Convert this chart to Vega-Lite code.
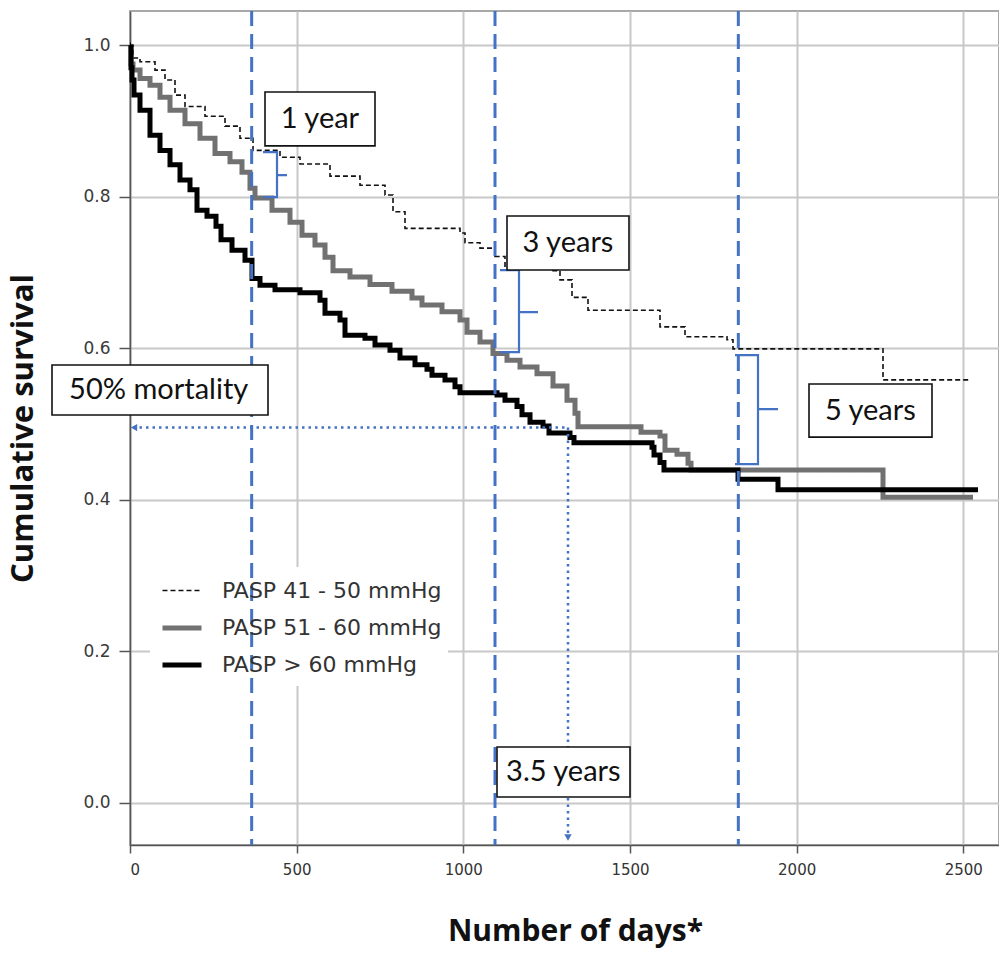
{
  "$schema": "https://vega.github.io/schema/vega-lite/v6.json",
  "width": 869,
  "height": 834,
  "autosize": {"type": "none"},
  "padding": {"left": 130, "top": 11, "right": 0, "bottom": 116},
  "background": "white",
  "config": {
    "view": {"stroke": "#a8a8a8", "strokeWidth": 2},
    "axis": {
      "labelFont": "DejaVu Sans",
      "tickColor": "#555", "tickWidth": 1.5,
      "domainColor": "#555", "domainWidth": 1.5,
      "grid": true, "gridColor": "#c8c8c8", "gridWidth": 2,
      "titleFont": "Open Sans", "titleFontWeight": "bold", "titleColor": "#111"
    },
    "axisX": {"labelFontSize": 15, "labelColor": "#333", "labelPadding": 9, "tickSize": 8, "titlePadding": 39, "titleFontSize": 30, "titleX": 445},
    "axisY": {"labelFontSize": 17, "labelColor": "#3a3a3a", "labelPadding": 9, "tickSize": 11, "titlePadding": 43, "titleFontSize": 31},
    "legend": {"labelFont": "DejaVu Sans", "labelFontSize": 22, "labelColor": "#333", "labelLimit": 500, "labelOffset": 18, "rowPadding": 4, "symbolType": "stroke", "symbolSize": 1521, "padding": 10}
  },
  "datasets": {
    "curves": [
      {"s": "PASP 41 - 50 mmHg", "d": 0, "v": 1.0},
      {"s": "PASP 41 - 50 mmHg", "d": 9, "v": 0.983},
      {"s": "PASP 41 - 50 mmHg", "d": 30, "v": 0.978},
      {"s": "PASP 41 - 50 mmHg", "d": 75, "v": 0.967},
      {"s": "PASP 41 - 50 mmHg", "d": 105, "v": 0.954},
      {"s": "PASP 41 - 50 mmHg", "d": 135, "v": 0.934},
      {"s": "PASP 41 - 50 mmHg", "d": 165, "v": 0.919},
      {"s": "PASP 41 - 50 mmHg", "d": 225, "v": 0.906},
      {"s": "PASP 41 - 50 mmHg", "d": 285, "v": 0.893},
      {"s": "PASP 41 - 50 mmHg", "d": 330, "v": 0.877},
      {"s": "PASP 41 - 50 mmHg", "d": 369, "v": 0.861},
      {"s": "PASP 41 - 50 mmHg", "d": 450, "v": 0.852},
      {"s": "PASP 41 - 50 mmHg", "d": 510, "v": 0.843},
      {"s": "PASP 41 - 50 mmHg", "d": 600, "v": 0.827},
      {"s": "PASP 41 - 50 mmHg", "d": 690, "v": 0.815},
      {"s": "PASP 41 - 50 mmHg", "d": 765, "v": 0.802},
      {"s": "PASP 41 - 50 mmHg", "d": 789, "v": 0.78},
      {"s": "PASP 41 - 50 mmHg", "d": 825, "v": 0.758},
      {"s": "PASP 41 - 50 mmHg", "d": 990, "v": 0.752},
      {"s": "PASP 41 - 50 mmHg", "d": 1005, "v": 0.739},
      {"s": "PASP 41 - 50 mmHg", "d": 1050, "v": 0.732},
      {"s": "PASP 41 - 50 mmHg", "d": 1095, "v": 0.721},
      {"s": "PASP 41 - 50 mmHg", "d": 1125, "v": 0.706},
      {"s": "PASP 41 - 50 mmHg", "d": 1260, "v": 0.702},
      {"s": "PASP 41 - 50 mmHg", "d": 1290, "v": 0.69},
      {"s": "PASP 41 - 50 mmHg", "d": 1326, "v": 0.667},
      {"s": "PASP 41 - 50 mmHg", "d": 1374, "v": 0.65},
      {"s": "PASP 41 - 50 mmHg", "d": 1590, "v": 0.628},
      {"s": "PASP 41 - 50 mmHg", "d": 1665, "v": 0.615},
      {"s": "PASP 41 - 50 mmHg", "d": 1791, "v": 0.611},
      {"s": "PASP 41 - 50 mmHg", "d": 1809, "v": 0.599},
      {"s": "PASP 41 - 50 mmHg", "d": 2259, "v": 0.558},
      {"s": "PASP 41 - 50 mmHg", "d": 2520, "v": 0.558},
      {"s": "PASP 51 - 60 mmHg", "d": 0, "v": 1.0},
      {"s": "PASP 51 - 60 mmHg", "d": 3, "v": 0.975},
      {"s": "PASP 51 - 60 mmHg", "d": 9, "v": 0.967},
      {"s": "PASP 51 - 60 mmHg", "d": 30, "v": 0.956},
      {"s": "PASP 51 - 60 mmHg", "d": 60, "v": 0.947},
      {"s": "PASP 51 - 60 mmHg", "d": 90, "v": 0.931},
      {"s": "PASP 51 - 60 mmHg", "d": 120, "v": 0.914},
      {"s": "PASP 51 - 60 mmHg", "d": 165, "v": 0.896},
      {"s": "PASP 51 - 60 mmHg", "d": 210, "v": 0.877},
      {"s": "PASP 51 - 60 mmHg", "d": 255, "v": 0.857},
      {"s": "PASP 51 - 60 mmHg", "d": 300, "v": 0.846},
      {"s": "PASP 51 - 60 mmHg", "d": 336, "v": 0.832},
      {"s": "PASP 51 - 60 mmHg", "d": 360, "v": 0.811},
      {"s": "PASP 51 - 60 mmHg", "d": 375, "v": 0.798},
      {"s": "PASP 51 - 60 mmHg", "d": 426, "v": 0.782},
      {"s": "PASP 51 - 60 mmHg", "d": 480, "v": 0.766},
      {"s": "PASP 51 - 60 mmHg", "d": 516, "v": 0.749},
      {"s": "PASP 51 - 60 mmHg", "d": 555, "v": 0.736},
      {"s": "PASP 51 - 60 mmHg", "d": 585, "v": 0.72},
      {"s": "PASP 51 - 60 mmHg", "d": 609, "v": 0.702},
      {"s": "PASP 51 - 60 mmHg", "d": 660, "v": 0.694},
      {"s": "PASP 51 - 60 mmHg", "d": 720, "v": 0.684},
      {"s": "PASP 51 - 60 mmHg", "d": 786, "v": 0.675},
      {"s": "PASP 51 - 60 mmHg", "d": 846, "v": 0.666},
      {"s": "PASP 51 - 60 mmHg", "d": 876, "v": 0.657},
      {"s": "PASP 51 - 60 mmHg", "d": 936, "v": 0.648},
      {"s": "PASP 51 - 60 mmHg", "d": 990, "v": 0.637},
      {"s": "PASP 51 - 60 mmHg", "d": 1011, "v": 0.621},
      {"s": "PASP 51 - 60 mmHg", "d": 1050, "v": 0.608},
      {"s": "PASP 51 - 60 mmHg", "d": 1089, "v": 0.593},
      {"s": "PASP 51 - 60 mmHg", "d": 1131, "v": 0.584},
      {"s": "PASP 51 - 60 mmHg", "d": 1170, "v": 0.575},
      {"s": "PASP 51 - 60 mmHg", "d": 1221, "v": 0.566},
      {"s": "PASP 51 - 60 mmHg", "d": 1269, "v": 0.55},
      {"s": "PASP 51 - 60 mmHg", "d": 1311, "v": 0.531},
      {"s": "PASP 51 - 60 mmHg", "d": 1335, "v": 0.514},
      {"s": "PASP 51 - 60 mmHg", "d": 1344, "v": 0.496},
      {"s": "PASP 51 - 60 mmHg", "d": 1533, "v": 0.489},
      {"s": "PASP 51 - 60 mmHg", "d": 1590, "v": 0.484},
      {"s": "PASP 51 - 60 mmHg", "d": 1605, "v": 0.465},
      {"s": "PASP 51 - 60 mmHg", "d": 1641, "v": 0.46},
      {"s": "PASP 51 - 60 mmHg", "d": 1674, "v": 0.448},
      {"s": "PASP 51 - 60 mmHg", "d": 1683, "v": 0.439},
      {"s": "PASP 51 - 60 mmHg", "d": 2259, "v": 0.403},
      {"s": "PASP 51 - 60 mmHg", "d": 2529, "v": 0.403},
      {"s": "PASP > 60 mmHg", "d": 0, "v": 1.0},
      {"s": "PASP > 60 mmHg", "d": 3, "v": 0.97},
      {"s": "PASP > 60 mmHg", "d": 6, "v": 0.954},
      {"s": "PASP > 60 mmHg", "d": 12, "v": 0.934},
      {"s": "PASP > 60 mmHg", "d": 30, "v": 0.914},
      {"s": "PASP > 60 mmHg", "d": 60, "v": 0.881},
      {"s": "PASP > 60 mmHg", "d": 90, "v": 0.861},
      {"s": "PASP > 60 mmHg", "d": 120, "v": 0.842},
      {"s": "PASP > 60 mmHg", "d": 150, "v": 0.822},
      {"s": "PASP > 60 mmHg", "d": 180, "v": 0.809},
      {"s": "PASP > 60 mmHg", "d": 201, "v": 0.782},
      {"s": "PASP > 60 mmHg", "d": 231, "v": 0.774},
      {"s": "PASP > 60 mmHg", "d": 258, "v": 0.761},
      {"s": "PASP > 60 mmHg", "d": 273, "v": 0.743},
      {"s": "PASP > 60 mmHg", "d": 306, "v": 0.729},
      {"s": "PASP > 60 mmHg", "d": 345, "v": 0.716},
      {"s": "PASP > 60 mmHg", "d": 366, "v": 0.692},
      {"s": "PASP > 60 mmHg", "d": 390, "v": 0.683},
      {"s": "PASP > 60 mmHg", "d": 435, "v": 0.677},
      {"s": "PASP > 60 mmHg", "d": 510, "v": 0.673},
      {"s": "PASP > 60 mmHg", "d": 570, "v": 0.663},
      {"s": "PASP > 60 mmHg", "d": 585, "v": 0.646},
      {"s": "PASP > 60 mmHg", "d": 630, "v": 0.637},
      {"s": "PASP > 60 mmHg", "d": 645, "v": 0.617},
      {"s": "PASP > 60 mmHg", "d": 705, "v": 0.613},
      {"s": "PASP > 60 mmHg", "d": 735, "v": 0.604},
      {"s": "PASP > 60 mmHg", "d": 780, "v": 0.597},
      {"s": "PASP > 60 mmHg", "d": 810, "v": 0.587},
      {"s": "PASP > 60 mmHg", "d": 855, "v": 0.578},
      {"s": "PASP > 60 mmHg", "d": 891, "v": 0.572},
      {"s": "PASP > 60 mmHg", "d": 906, "v": 0.564},
      {"s": "PASP > 60 mmHg", "d": 945, "v": 0.558},
      {"s": "PASP > 60 mmHg", "d": 975, "v": 0.549},
      {"s": "PASP > 60 mmHg", "d": 990, "v": 0.541},
      {"s": "PASP > 60 mmHg", "d": 1101, "v": 0.538},
      {"s": "PASP > 60 mmHg", "d": 1125, "v": 0.531},
      {"s": "PASP > 60 mmHg", "d": 1161, "v": 0.523},
      {"s": "PASP > 60 mmHg", "d": 1176, "v": 0.512},
      {"s": "PASP > 60 mmHg", "d": 1200, "v": 0.502},
      {"s": "PASP > 60 mmHg", "d": 1239, "v": 0.497},
      {"s": "PASP > 60 mmHg", "d": 1257, "v": 0.488},
      {"s": "PASP > 60 mmHg", "d": 1320, "v": 0.482},
      {"s": "PASP > 60 mmHg", "d": 1332, "v": 0.475},
      {"s": "PASP > 60 mmHg", "d": 1566, "v": 0.469},
      {"s": "PASP > 60 mmHg", "d": 1572, "v": 0.459},
      {"s": "PASP > 60 mmHg", "d": 1590, "v": 0.449},
      {"s": "PASP > 60 mmHg", "d": 1602, "v": 0.439},
      {"s": "PASP > 60 mmHg", "d": 1824, "v": 0.427},
      {"s": "PASP > 60 mmHg", "d": 1944, "v": 0.413},
      {"s": "PASP > 60 mmHg", "d": 2544, "v": 0.413}
    ],
    "years": [{"d": 365}, {"d": 1095}, {"d": 1825}],
    "dotted": [
      {"x1": 9, "x2": 1314, "y1": 0.495, "y2": 0.495},
      {"x1": 1314, "x2": 1314, "y1": 0.495, "y2": -0.04}
    ],
    "arrows": [
      {"k": "h", "d": 12, "v": 0.495},
      {"k": "v", "d": 1314, "v": -0.046}
    ],
    "braces": [
      {"b": 1, "o": 1, "d": 399, "v": 0.8587},
      {"b": 1, "o": 2, "d": 441, "v": 0.8587},
      {"b": 1, "o": 3, "d": 441, "v": 0.8284},
      {"b": 1, "o": 4, "d": 471, "v": 0.8284},
      {"b": 1, "o": 5, "d": 441, "v": 0.8284},
      {"b": 1, "o": 6, "d": 441, "v": 0.7993},
      {"b": 1, "o": 7, "d": 399, "v": 0.7993},
      {"b": 3, "o": 1, "d": 1110, "v": 0.703},
      {"b": 3, "o": 2, "d": 1167, "v": 0.703},
      {"b": 3, "o": 3, "d": 1167, "v": 0.6475},
      {"b": 3, "o": 4, "d": 1224, "v": 0.6475},
      {"b": 3, "o": 5, "d": 1167, "v": 0.6475},
      {"b": 3, "o": 6, "d": 1167, "v": 0.5947},
      {"b": 3, "o": 7, "d": 1110, "v": 0.5947},
      {"b": 5, "o": 1, "d": 1815, "v": 0.5908},
      {"b": 5, "o": 2, "d": 1884, "v": 0.5908},
      {"b": 5, "o": 3, "d": 1884, "v": 0.5195},
      {"b": 5, "o": 4, "d": 1944, "v": 0.5195},
      {"b": 5, "o": 5, "d": 1884, "v": 0.5195},
      {"b": 5, "o": 6, "d": 1884, "v": 0.4469},
      {"b": 5, "o": 7, "d": 1815, "v": 0.4469}
    ],
    "boxes": [
      {"t": "1 year", "x1": 405, "x2": 735, "y1": 0.938, "y2": 0.867, "cx": 570, "cy": 0.9025},
      {"t": "3 years", "x1": 1131, "x2": 1497, "y1": 0.7743, "y2": 0.703, "cx": 1314, "cy": 0.7387},
      {"t": "50% mortality", "x1": -234, "x2": 414, "y1": 0.5776, "y2": 0.5116, "cx": 86, "cy": 0.5446},
      {"t": "5 years", "x1": 2037, "x2": 2406, "y1": 0.5525, "y2": 0.4825, "cx": 2221, "cy": 0.5175},
      {"t": "3.5 years", "x1": 1101, "x2": 1500, "y1": 0.0733, "y2": 0.0073, "cx": 1300, "cy": 0.0403}
    ],
    "legendbg": [{"x1": 60, "x2": 954, "y1": 0.311, "y2": 0.154}]
  },
  "layer": [
    {
      "data": {"name": "legendbg"},
      "mark": {"type": "rect", "fill": "white"},
      "encoding": {
        "x": {"field": "x1", "type": "quantitative", "title": "Number of days*", "scale": {"domain": [0, 2607], "nice": false, "zero": false}},
        "x2": {"field": "x2"},
        "y": {"field": "y1", "type": "quantitative", "title": "Cumulative survival", "scale": {"domain": [-0.056, 1.045], "nice": false, "zero": false}},
        "y2": {"field": "y2"}
      }
    },
    {
      "data": {"name": "curves"},
      "mark": {"type": "line", "interpolate": "step-after", "strokeJoin": "miter"},
      "encoding": {
        "x": {
          "field": "d", "type": "quantitative", "title": "Number of days*",
          "scale": {"domain": [0, 2607], "nice": false, "zero": false},
          "axis": {"values": [0, 500, 1000, 1500, 2000, 2500], "format": "d"}
        },
        "y": {
          "field": "v", "type": "quantitative", "title": "Cumulative survival",
          "scale": {"domain": [-0.056, 1.045], "nice": false, "zero": false},
          "axis": {"values": [0, 0.2, 0.4, 0.6, 0.8, 1.0], "format": ".1f"}
        },
        "color": {
          "field": "s", "type": "nominal",
          "scale": {"domain": ["PASP 41 - 50 mmHg", "PASP 51 - 60 mmHg", "PASP > 60 mmHg"], "range": ["#111111", "#717171", "#000000"]},
          "legend": {"title": null, "orient": "none", "legendX": 20, "legendY": 549}
        },
        "strokeDash": {
          "field": "s", "type": "nominal",
          "scale": {"domain": ["PASP 41 - 50 mmHg", "PASP 51 - 60 mmHg", "PASP > 60 mmHg"], "range": [[5, 3], [1, 0], [1, 0]]},
          "legend": {"title": null, "orient": "none", "legendX": 20, "legendY": 549}
        },
        "strokeWidth": {
          "field": "s", "type": "nominal",
          "scale": {"type": "ordinal", "domain": ["PASP 41 - 50 mmHg", "PASP 51 - 60 mmHg", "PASP > 60 mmHg"], "range": [1.6, 5, 5]},
          "legend": {"title": null, "orient": "none", "legendX": 20, "legendY": 549}
        }
      }
    },
    {
      "data": {"name": "years"},
      "mark": {"type": "rule", "color": "#4472C4", "strokeWidth": 3, "strokeDash": [15, 8]},
      "encoding": {
        "x": {"field": "d", "type": "quantitative", "title": "Number of days*", "scale": {"domain": [0, 2607], "nice": false, "zero": false}}
      }
    },
    {
      "data": {"name": "dotted"},
      "mark": {"type": "rule", "color": "#4472C4", "strokeWidth": 2.5, "strokeDash": [2.5, 4]},
      "encoding": {
        "x": {"field": "x1", "type": "quantitative", "title": "Number of days*", "scale": {"domain": [0, 2607], "nice": false, "zero": false}},
        "x2": {"field": "x2"},
        "y": {"field": "y1", "type": "quantitative", "title": "Cumulative survival", "scale": {"domain": [-0.056, 1.045], "nice": false, "zero": false}},
        "y2": {"field": "y2"}
      }
    },
    {
      "data": {"name": "arrows"},
      "mark": {"type": "point", "filled": true, "color": "#4472C4", "size": 55, "opacity": 1},
      "encoding": {
        "x": {"field": "d", "type": "quantitative", "title": "Number of days*", "scale": {"domain": [0, 2607], "nice": false, "zero": false}},
        "y": {"field": "v", "type": "quantitative", "title": "Cumulative survival", "scale": {"domain": [-0.056, 1.045], "nice": false, "zero": false}},
        "shape": {"field": "k", "type": "nominal", "scale": {"domain": ["h", "v"], "range": ["triangle-left", "triangle-down"]}, "legend": null}
      }
    },
    {
      "data": {"name": "braces"},
      "mark": {"type": "line", "color": "#4472C4", "strokeWidth": 2.2},
      "encoding": {
        "x": {"field": "d", "type": "quantitative", "title": "Number of days*", "scale": {"domain": [0, 2607], "nice": false, "zero": false}},
        "y": {"field": "v", "type": "quantitative", "title": "Cumulative survival", "scale": {"domain": [-0.056, 1.045], "nice": false, "zero": false}},
        "detail": {"field": "b", "type": "nominal"},
        "order": {"field": "o", "type": "quantitative"}
      }
    },
    {
      "data": {"name": "boxes"},
      "mark": {"type": "rect", "fill": "white", "stroke": "#111", "strokeWidth": 1.6},
      "encoding": {
        "x": {"field": "x1", "type": "quantitative", "title": "Number of days*", "scale": {"domain": [0, 2607], "nice": false, "zero": false}},
        "x2": {"field": "x2"},
        "y": {"field": "y1", "type": "quantitative", "title": "Cumulative survival", "scale": {"domain": [-0.056, 1.045], "nice": false, "zero": false}},
        "y2": {"field": "y2"}
      }
    },
    {
      "data": {"name": "boxes"},
      "mark": {"type": "text", "font": "Lato", "fontSize": 29, "color": "#111", "align": "center", "baseline": "middle"},
      "encoding": {
        "x": {"field": "cx", "type": "quantitative", "title": "Number of days*", "scale": {"domain": [0, 2607], "nice": false, "zero": false}},
        "y": {"field": "cy", "type": "quantitative", "title": "Cumulative survival", "scale": {"domain": [-0.056, 1.045], "nice": false, "zero": false}},
        "text": {"field": "t", "type": "nominal"}
      }
    }
  ]
}
